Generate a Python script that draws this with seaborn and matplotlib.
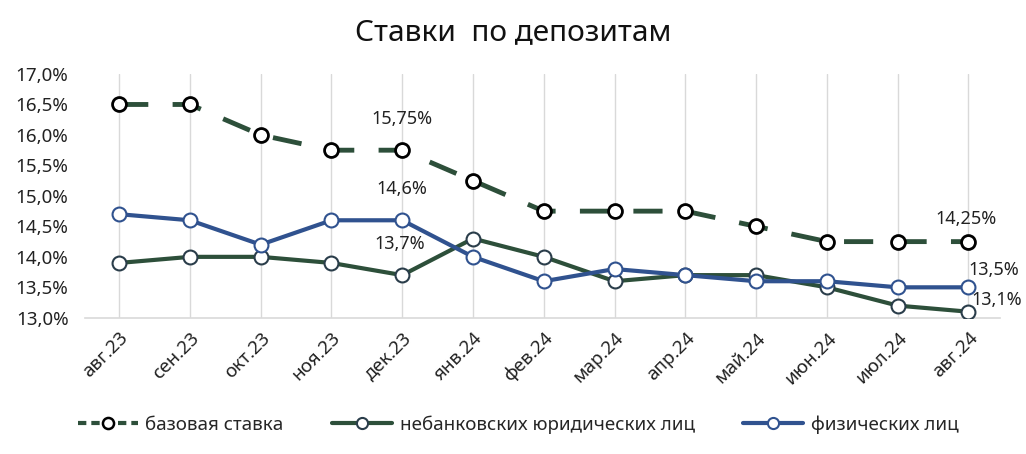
import matplotlib
matplotlib.use("Agg")
import matplotlib.pyplot as plt
import seaborn as sns
import pandas as pd
from matplotlib.ticker import FuncFormatter
from matplotlib.lines import Line2D

months = ["авг.23", "сен.23", "окт.23", "ноя.23", "дек.23", "янв.24", "фев.24",
          "мар.24", "апр.24", "май.24", "июн.24", "июл.24", "авг.24"]
base_rate = [16.5, 16.5, 16.0, 15.75, 15.75, 15.25, 14.75, 14.75, 14.75, 14.5, 14.25, 14.25, 14.25]
legal = [13.9, 14.0, 14.0, 13.9, 13.7, 14.3, 14.0, 13.6, 13.7, 13.7, 13.5, 13.2, 13.1]
individ = [14.7, 14.6, 14.2, 14.6, 14.6, 14.0, 13.6, 13.8, 13.7, 13.6, 13.6, 13.5, 13.5]
names = ["базовая ставка", "небанковских юридических лиц", "физических лиц"]
yticks = [13.0, 13.5, 14.0, 14.5, 15.0, 15.5, 16.0, 16.5, 17.0]

sns.set_style("white")
plt.rcParams['font.family'] = ['Noto Sans', 'DejaVu Sans']

green = "#2D4F3A"
blue = "#30528F"

x = list(range(len(months)))
fig = plt.figure(figsize=(10.26, 4.54), dpi=100)
ax = fig.add_axes([0.083, 0.30, 0.892, 0.537])

for xi in x:
    ax.axvline(xi, color="#D9D9D9", lw=1, zorder=0)

df = pd.DataFrame({"x": x, "base": base_rate, "legal": legal, "ind": individ})
sns.lineplot(data=df, x="x", y="legal", ax=ax, color=green, lw=3, marker="o",
             markersize=10, markerfacecolor="white", markeredgecolor="#2a3d4a", markeredgewidth=1.5, zorder=3)
sns.lineplot(data=df, x="x", y="ind", ax=ax, color=blue, lw=3, marker="o",
             markersize=10, markerfacecolor="white", markeredgecolor=blue, markeredgewidth=1.5, zorder=4)
sns.lineplot(data=df, x="x", y="base", ax=ax, color=green, lw=3.5, marker="o",
             markersize=10, markerfacecolor="white", markeredgecolor="black", markeredgewidth=2, zorder=5)
ax.lines[-1].set_dashes([6, 5])

ax.set_xlim(-0.48, 12.45)
ax.set_ylim(13.0, 17.0)
ax.set_yticks(yticks)
ax.yaxis.set_major_formatter(FuncFormatter(lambda v, p: f"{v:.1f}".replace(".", ",") + "%"))
ax.set_xticks(x)
ax.set_xticklabels(months, rotation=45, ha="right", rotation_mode="anchor")
ax.tick_params(axis="both", labelsize=13.5, colors="#222222", length=0)
ax.tick_params(axis="y", pad=12)
ax.tick_params(axis="x", pad=8)
ax.set_xlabel("")
ax.set_ylabel("")
for s in ["top", "right", "left"]:
    ax.spines[s].set_visible(False)
ax.spines["bottom"].set_color("#D9D9D9")
ax.spines["bottom"].set_linewidth(1.2)

def fmt(v):
    s = f"{v:.2f}".rstrip("0")
    if s.endswith("."):
        s += "0"
    return s.replace(".", ",") + "%"

kw = dict(fontsize=13, color="#222222")
ax.annotate(fmt(base_rate[4]), (4, base_rate[4]), xytext=(0, 16), textcoords="offset points", ha="center", va="bottom", **kw)
ax.annotate(fmt(individ[4]), (4, individ[4]), xytext=(0, 16), textcoords="offset points", ha="center", va="bottom", **kw)
ax.annotate(fmt(legal[4]), (4, legal[4]), xytext=(-2, 16), textcoords="offset points", ha="center", va="bottom", **kw)
ax.annotate(fmt(base_rate[12]), (12, base_rate[12]), xytext=(-2, 10), textcoords="offset points", ha="center", va="bottom", **kw)
ax.annotate(fmt(individ[12]), (12, individ[12]), xytext=(0, 6), textcoords="offset points", ha="left", va="bottom", **kw)
ax.annotate(fmt(legal[12]), (12, legal[12]), xytext=(2, 2), textcoords="offset points", ha="left", va="bottom", **kw)

fig.suptitle("Ставки  по депозитам", y=0.96, fontsize=21.5, color="#111111")

handles = [
    Line2D([], [], color=green, lw=3, ls=(0, (2, 1.2)), marker="o", markersize=8,
           markerfacecolor="white", markeredgecolor="black", markeredgewidth=1.8),
    Line2D([], [], color=green, lw=3, marker="o", markersize=8,
           markerfacecolor="white", markeredgecolor="#2a3d4a", markeredgewidth=1.5),
    Line2D([], [], color=blue, lw=3, marker="o", markersize=8,
           markerfacecolor="white", markeredgecolor=blue, markeredgewidth=1.5),
]
fig.legend(handles, names, loc="center", bbox_to_anchor=(0.505, 0.065), ncol=3, frameon=False,
           fontsize=13.5, handlelength=3.2, columnspacing=2.6, handletextpad=0.4)

fig.savefig("out.png", dpi=100, facecolor="white")
